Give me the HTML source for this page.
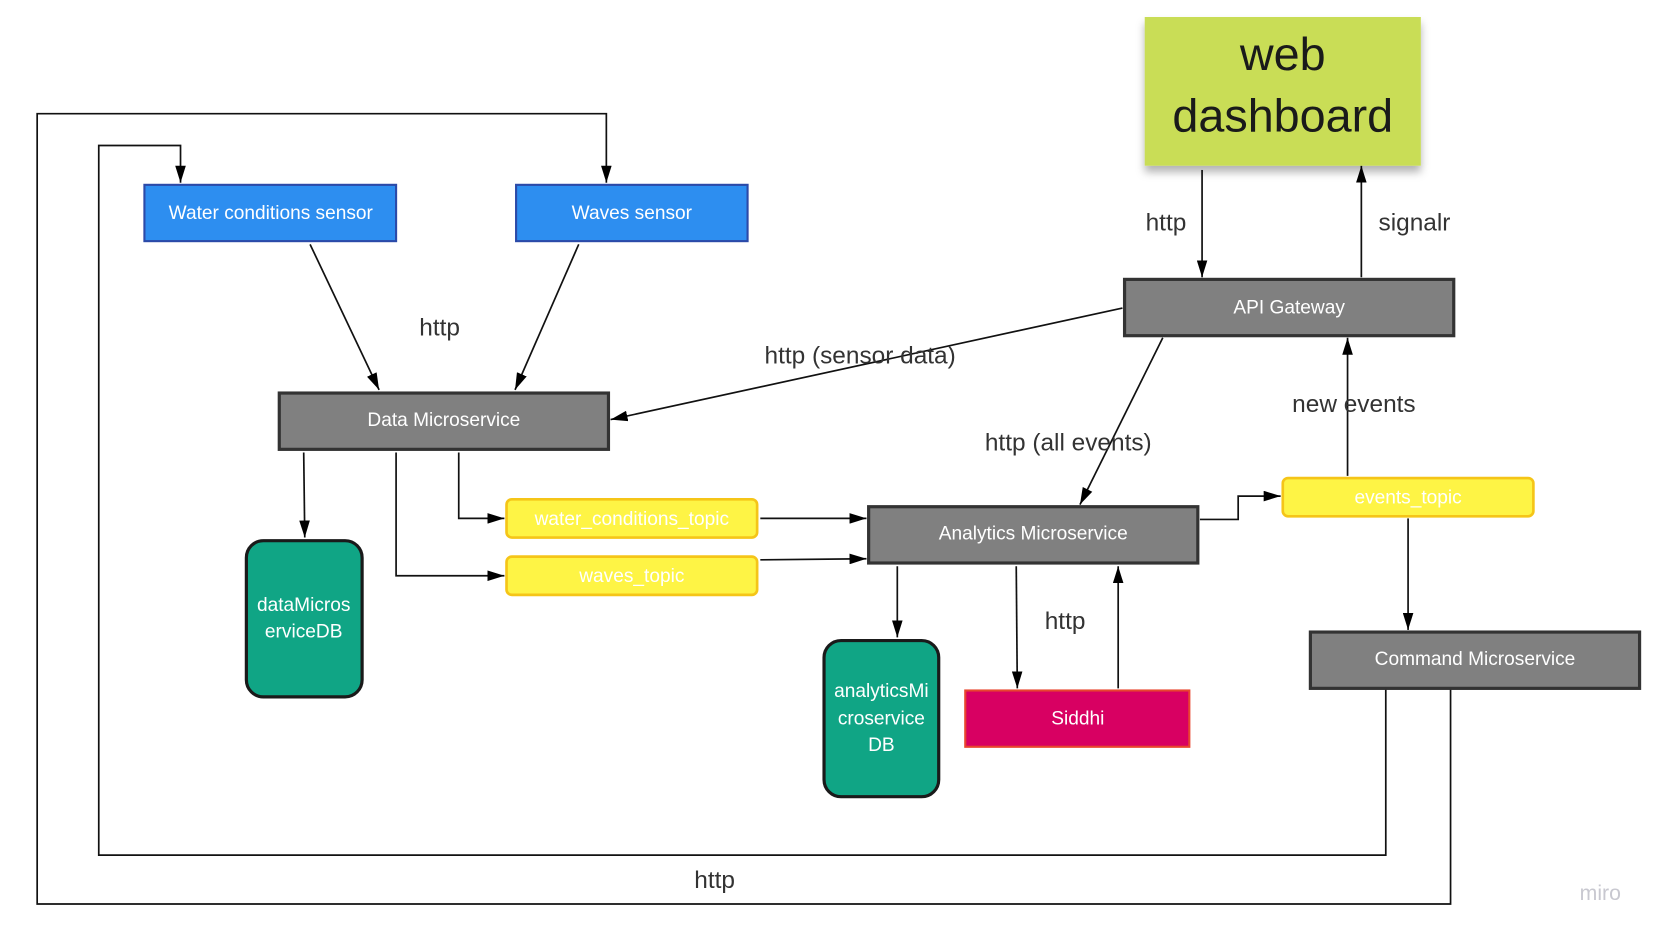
<!DOCTYPE html>
<html><head><style>
html,body{margin:0;padding:0;background:#fff;width:1664px;height:938px;overflow:hidden}
svg{display:block}
text{font-family:"Liberation Sans",sans-serif}
</style></head><body>
<svg width="1664" height="938" viewBox="0 0 1567 883" preserveAspectRatio="none" xmlns="http://www.w3.org/2000/svg">
<defs>
<marker id="a" viewBox="0 0 16 10" refX="16" refY="5" markerWidth="16" markerHeight="10" markerUnits="userSpaceOnUse" orient="auto">
<path d="M0,0 L16,5 L0,10 Z" fill="#000"/></marker>
<filter id="sh" x="-10%" y="-10%" width="120%" height="130%"><feDropShadow dx="0" dy="6" stdDeviation="4" flood-color="#000" flood-opacity="0.3"/></filter>
</defs>
<rect x="0" y="0" width="1570" height="890" fill="#fff"/>
<g fill="none" stroke="#111" stroke-width="1.6">
<polyline points="1366,648 1366,851 35,851 35,107 571,107 571,172" marker-end="url(#a)"/>
<polyline points="1305,648 1305,805 93,805 93,137 170,137 170,172" marker-end="url(#a)"/>
<line x1="292" y1="230" x2="357" y2="367" marker-end="url(#a)"/>
<line x1="545" y1="230" x2="485" y2="367" marker-end="url(#a)"/>
<line x1="1057" y1="290" x2="575" y2="395" marker-end="url(#a)"/>
<line x1="1095" y1="318" x2="1017" y2="475" marker-end="url(#a)"/>
<line x1="1132" y1="160" x2="1132" y2="261" marker-end="url(#a)"/>
<line x1="1282" y1="261" x2="1282" y2="156" marker-end="url(#a)"/>
<line x1="1269" y1="448" x2="1269" y2="318" marker-end="url(#a)"/>
<polyline points="1130,489 1166,489 1166,467 1206,467" marker-end="url(#a)"/>
<line x1="1326" y1="488" x2="1326" y2="593" marker-end="url(#a)"/>
<line x1="286" y1="426" x2="287" y2="506" marker-end="url(#a)"/>
<polyline points="432,426 432,488 475,488" marker-end="url(#a)"/>
<polyline points="373,426 373,542 475,542" marker-end="url(#a)"/>
<line x1="716" y1="488" x2="816" y2="488" marker-end="url(#a)"/>
<line x1="716" y1="527" x2="816" y2="526" marker-end="url(#a)"/>
<line x1="845" y1="533" x2="845" y2="600" marker-end="url(#a)"/>
<line x1="957" y1="533" x2="958" y2="648" marker-end="url(#a)"/>
<line x1="1053" y1="648" x2="1053" y2="533" marker-end="url(#a)"/>
</g>
<rect x="1078" y="16" width="260" height="140" fill="#c9dd57" filter="url(#sh)"/>
<text x="1208" y="66" font-size="44" text-anchor="middle" fill="#1a1a1a">web</text>
<text x="1208" y="124" font-size="44" text-anchor="middle" fill="#1a1a1a">dashboard</text>
<g stroke="#333" stroke-width="3" fill="#808080">
<rect x="1059" y="263" width="310" height="53"/>
<rect x="263" y="370" width="310" height="53"/>
<rect x="818" y="477" width="310" height="53"/>
<rect x="1234" y="595" width="310" height="53"/>
</g>
<g stroke="#2b4aa8" stroke-width="2" fill="#2d8ef0">
<rect x="136" y="174" width="237" height="53"/>
<rect x="486" y="174" width="218" height="53"/>
</g>
<g stroke="#f5c518" stroke-width="2.5" fill="#fef445">
<rect x="1208" y="450" width="236" height="36" rx="5"/>
<rect x="477" y="470" width="236" height="36" rx="5"/>
<rect x="477" y="524" width="236" height="36" rx="5"/>
</g>
<g stroke="#1a1a1a" stroke-width="3" fill="#10a585">
<rect x="232" y="509" width="109" height="147" rx="16"/>
<rect x="776" y="603" width="108" height="147" rx="16"/>
</g>
<rect x="909" y="650" width="211" height="53" fill="#d80062" stroke="#e8452e" stroke-width="2"/>
<g fill="#fff" font-size="18" text-anchor="middle">
<text x="1214" y="295">API Gateway</text>
<text x="418" y="401">Data Microservice</text>
<text x="973" y="508">Analytics Microservice</text>
<text x="1389" y="626">Command Microservice</text>
<text x="255" y="206">Water conditions sensor</text>
<text x="595" y="206">Waves sensor</text>
<text x="1326" y="474">events_topic</text>
<text x="595" y="494">water_conditions_topic</text>
<text x="595" y="548">waves_topic</text>
<text x="286" y="575">dataMicros</text>
<text x="286" y="600">erviceDB</text>
<text x="830" y="656">analyticsMi</text>
<text x="830" y="682">croservice</text>
<text x="830" y="707">DB</text>
<text x="1015" y="682">Siddhi</text>
</g>
<g fill="#333" font-size="23" text-anchor="middle">
<text x="1098" y="217">http</text>
<text x="1332" y="217">signalr</text>
<text x="414" y="316">http</text>
<text x="810" y="342">http (sensor data)</text>
<text x="1006" y="424">http (all events)</text>
<text x="1275" y="388">new events</text>
<text x="1003" y="592">http</text>
<text x="673" y="836">http</text>
</g>
<text x="1507" y="847" font-size="20" fill="#c8c8d0" text-anchor="middle">miro</text>
</svg>
</body></html>
